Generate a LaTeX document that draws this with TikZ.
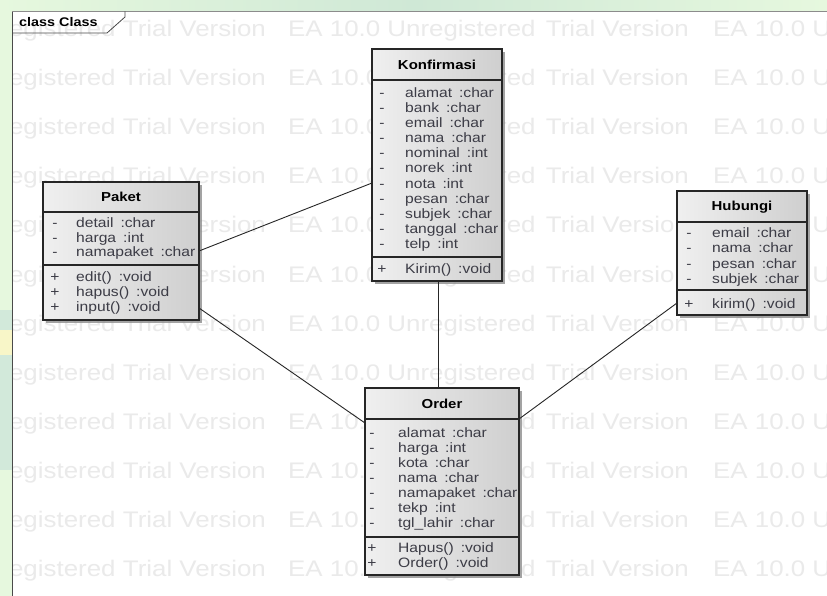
\documentclass[tikz,border=0pt]{standalone}
\usepackage{fontspec}
\setmainfont{Liberation Sans}[FakeStretch=1.15]
\usetikzlibrary{shadows}
\definecolor{wm}{HTML}{EAEAEA}
\definecolor{frameline}{HTML}{4A4A4A}
\definecolor{greenlight}{HTML}{E6F8DE}
\definecolor{greenteal}{HTML}{D2E9DA}
\definecolor{yellowpatch}{HTML}{F8F6C8}
\definecolor{greentop}{HTML}{CFE8D6}
\definecolor{attrtext}{HTML}{3C3C46}
\newcommand\colgap{\hspace{7pt}}
\begin{document}
\begin{tikzpicture}[x=1pt,y=-1pt,
  classbox/.style={draw=black!85, line width=1.3pt, inner sep=0pt, outer sep=0pt,
    left color=black!6, right color=black!19,
    drop shadow={shadow xshift=3pt, shadow yshift=-3pt, fill=black!45, opacity=0.8}},
  divider/.style={draw=black!85, line width=1.1pt},
  ctitle/.style={font=\bfseries\fontsize{13}{15}\selectfont, anchor=base, inner sep=0pt},
  attr/.style={font=\fontsize{13.6}{15}\selectfont, anchor=base west, inner sep=0pt, text=attrtext},
  marker/.style={font=\fontsize{13.6}{15}\selectfont, anchor=base, inner sep=0pt, text=attrtext},
  wmtext/.style={font=\fontsize{22.5}{24}\selectfont, text=wm, inner sep=0pt},
  assoc/.style={draw=black!85, line width=0.9pt}
]
\useasboundingbox (0,0) rectangle (827,596);
% background
\fill[white] (0,0) rectangle (827,596);
\fill[greenlight] (0,0) rectangle (12,596);
\fill[greenteal] (0,310) rectangle (12,470);
\fill[yellowpatch] (0,330) rectangle (12,355);
\shade[left color=greenlight, right color=greentop] (0,0) rectangle (414,11);
\shade[left color=greentop, right color=greenlight] (414,0) rectangle (827,11);
% watermark
\begin{scope}
\clip (13,12) rectangle (827,596);
\foreach \r in {0,...,11}{
  \pgfmathsetmacro\yy{37+49*\r}
  \foreach \ea/\tv [count=\k] in {-132/266,288/689,713/1114}{
    \node[wmtext, anchor=base west] (wma-\r-\k) at (\ea,\yy) {EA 10.0 Unregistered};
    \node[wmtext, anchor=base east] (wmb-\r-\k) at (\tv,\yy) {Trial Version};
  }
}
\end{scope}
% frame
\draw[frameline, line width=1pt] (12,596) -- (12,11.5);
\draw[black!45, line width=1.8pt] (12,11.5) -- (827,11.5);
\draw[black!70, line width=0.8pt] (12,33) -- (107,33) -- (125,17) -- (125,11.5);
\node[anchor=base west, font=\bfseries\fontsize{12.5}{14}\selectfont, inner sep=0pt] (tabtxt) at (19,27) {class Class};

% Konfirmasi
\node[classbox, minimum width=130pt, minimum height=232pt] (konf) at (437,165) {};
\draw[divider] (372,80) -- (502,80);
\draw[divider] (372,257) -- (502,257);
\node[ctitle] (konf-t) at (437,70) {Konfirmasi};
\foreach \n/\t [count=\i] in {alamat/char,bank/char,email/char,nama/char,nominal/int,norek/int,nota/int,pesan/char,subjek/char,tanggal/char,telp/int}{
  \pgfmathsetmacro\yy{97.5+15.1*(\i-1)}
  \node[marker] (konf-m\i) at (382,\yy) {-};
  \node[attr] (konf-a\i) at (405,\yy) {\n\colgap:\t};
}
\node[marker] (konf-p1) at (382,273.5) {+};
\node[attr] (konf-o1) at (405,273.5) {Kirim()\colgap:void};

% Paket
\node[classbox, minimum width=156pt, minimum height=138pt] (paket) at (121,251) {};
\draw[divider] (43,212) -- (199,212);
\draw[divider] (43,265) -- (199,265);
\node[ctitle] (paket-t) at (121,202) {Paket};
\foreach \n/\t [count=\i] in {detail/char,harga/int,namapaket/char}{
  \pgfmathsetmacro\yy{227.5+14.6*(\i-1)}
  \node[marker] (paket-m\i) at (55,\yy) {-};
  \node[attr] (paket-a\i) at (76,\yy) {\n\colgap:\t};
}
\foreach \n [count=\i] in {edit(),hapus(),input()}{
  \pgfmathsetmacro\yy{281.5+15*(\i-1)}
  \node[marker] (paket-p\i) at (55,\yy) {+};
  \node[attr] (paket-o\i) at (76,\yy) {\n\colgap:void};
}

% Hubungi
\node[classbox, minimum width=130pt, minimum height=124pt] (hub) at (742,253) {};
\draw[divider] (677,222) -- (807,222);
\draw[divider] (677,290) -- (807,290);
\node[ctitle] (hub-t) at (742,211) {Hubungi};
\foreach \n/\t [count=\i] in {email/char,nama/char,pesan/char,subjek/char}{
  \pgfmathsetmacro\yy{237.5+15.3*(\i-1)}
  \node[marker] (hub-m\i) at (689,\yy) {-};
  \node[attr] (hub-a\i) at (712,\yy) {\n\colgap:\t};
}
\node[marker] (hub-p1) at (689,308.5) {+};
\node[attr] (hub-o1) at (712,308.5) {kirim()\colgap:void};

% Order
\node[classbox, minimum width=154pt, minimum height=187pt] (order) at (442,481.5) {};
\draw[divider] (365,419) -- (519,419);
\draw[divider] (365,537) -- (519,537);
\node[ctitle] (order-t) at (442,408) {Order};
\foreach \n/\t [count=\i] in {alamat/char,harga/int,kota/char,nama/char,namapaket/char,tekp/int,tgl\_lahir/char}{
  \pgfmathsetmacro\yy{437.5+15*(\i-1)}
  \node[marker] (order-m\i) at (372,\yy) {-};
  \node[attr] (order-a\i) at (398,\yy) {\n\colgap:\t};
}
\foreach \n [count=\i] in {Hapus(),Order()}{
  \pgfmathsetmacro\yy{552.5+15*(\i-1)}
  \node[marker] (order-p\i) at (372,\yy) {+};
  \node[attr] (order-o\i) at (398,\yy) {\n\colgap:void};
}

% associations
\draw[assoc] (paket.east) -- ([yshift=-18pt]konf.west);
\draw[assoc] ([yshift=12pt]paket.south east) -- ([yshift=-35pt]order.north west);
\draw[assoc] ([xshift=1.5pt]konf.south) -- ([xshift=1.5pt]konf.south |- order.north);
\draw[assoc] ([yshift=12pt]hub.south west) -- ([yshift=-31pt]order.north east);
\end{tikzpicture}
\end{document}
